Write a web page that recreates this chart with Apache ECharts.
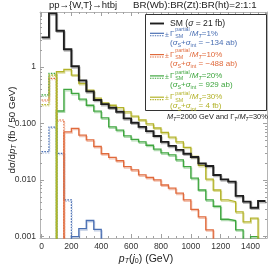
<!DOCTYPE html>
<html><head><meta charset="utf-8">
<script src="https://cdn.jsdelivr.net/npm/echarts@6/dist/echarts.min.js"></script>
<style>html,body{margin:0;padding:0;background:#fff}#c{width:270px;height:267px}</style>
</head><body><div id="c"></div>
<script>
// ---------------- data ----------------
const binEdges = [0,50,100,150,200,250,300,350,400,450,500,550,600,650,700,750,800,850,900,950,1000,1050,1100,1150,1200,1250,1300,1350,1400,1450,1500];
// SM distribution (fb / 50 GeV)
const smValues = [3.36,8.95,4.40,2.06,1.03,0.58,0.37,0.26,0.22,0.19,0.161,0.123,0.103,0.087,0.073,0.060,0.047,0.040,0.034,0.029,0.0254,0.0196,0.0176,0.0122,0.0102,0.0093,0.0052,0.0041,0.0032,0.0042];
// signal+interference, signed (negative bins drawn dotted as |value|)
const gamma1Values  = [-0.0316,-0.086,-0.0295,-0.0044,0.00098,0.00136,0.0019,0.00132,0,0,0,0,0,0,0,0,0,0,0,0,0,0,0,0,0,0,0,0,0,0];
const gamma10Values = [-0.26,-0.63,-0.115,0.071,0.082,0.062,0.051,0.039,0.029,0.025,0.0218,0.0171,0.015,0.0122,0.011,0.010,0.0081,0.0071,0.0058,0.0044,0.0030,0.0022,0.0013,0,0,0,0,0,0,0];
const gamma20Values = [-0.32,-0.77,0.166,0.40,0.34,0.27,0.21,0.165,0.125,0.087,0.076,0.060,0.052,0.047,0.041,0.035,0.030,0.0276,0.0225,0.0171,0.0107,0.0066,0.0044,0.0034,0.0020,0.0019,0.0013,0,0.00098,0];
const gamma30Values = [-0.216,-0.72,0.825,0.91,0.72,0.51,0.39,0.28,0.23,0.21,0.19,0.16,0.135,0.115,0.098,0.083,0.069,0.057,0.047,0.0377,0.026,0.018,0.0103,0.0066,0.0044,0.0041,0.0027,0.0018,0.0021,0];
const xTicks = [0,200,400,600,800,1000,1200,1400];
const yTicks = [0.001,0.01,0.1,1];
const yTickLabels = ['0.001','0.010','0.100','1'];
const yMinorTicks = [0.002,0.003,0.004,0.005,0.006,0.007,0.008,0.009,0.02,0.03,0.04,0.05,0.06,0.07,0.08,0.09,0.2,0.3,0.4,0.5,0.6,0.7,0.8,0.9,2,3,4,5,6,7,8,9];
const legendLabels = ['1%','10%','20%','30%'];
const legendSigma = ['\u2212134 ab','\u2212488 ab','929 ab','4 fb'];

// ---------------- styling ----------------
const FONT = 'Liberation Sans, Arial, sans-serif';
const X_MIN = -10, X_MAX = 1510, Y_MIN = 0.00093, Y_MAX = 9.45;
const FLOOR = 1e-7;
const colors = ['#4a6fb3','#e06a3c','#3fa63f','#b3b32a'];
const shadows = ['rgba(74,111,179,0.35)','rgba(224,106,60,0.4)','rgba(63,166,63,0.4)','rgba(179,179,42,0.45)'];

function steps(vals, keep) {
  const pts = [];
  vals.forEach((v, i) => {
    const y = keep(v) ? Math.abs(v) : FLOOR;
    pts.push([binEdges[i], y], [binEdges[i + 1], y]);
  });
  return pts;
}
function lineSeries(data, color, width, dotted, shadow) {
  return {
    type: 'line', data, xAxisIndex: 0, yAxisIndex: 0, symbol: 'none', showSymbol: false,
    animation: false, clip: true, silent: true,
    lineStyle: { color, width, type: dotted ? [1.6, 1.2] : 'solid', cap: 'butt', join: 'miter',
      shadowColor: shadow, shadowBlur: 0.5, shadowOffsetX: 0.8, shadowOffsetY: 1.4 }
  };
}
const series = [];
[gamma1Values, gamma10Values, gamma20Values, gamma30Values].forEach((vals, k) => {
  series.push(lineSeries(steps(vals, v => v < 0), colors[k], 1.2, true, shadows[k]));
  series.push(lineSeries(steps(vals, v => v > 0), colors[k], 1.3, false, shadows[k]));
});
series.push(lineSeries(steps(smValues, v => v > 0), '#1e1e1e', 1.9, false, 'rgba(0,0,0,0.28)'));

function xAx(pos, ticks, len, labels, line) {
  return { type: 'value', min: X_MIN, max: X_MAX, position: pos, gridIndex: 0,
    axisLine: { show: line, onZero: false, lineStyle: { color: '#b4b4b4', width: 1 } },
    axisTick: { show: true, inside: true, length: len, customValues: ticks, lineStyle: { color: '#a0a0a0', width: 1 } },
    axisLabel: labels ? { show: true, customValues: xTicks, fontSize: 8.5, color: '#333', margin: 4, fontFamily: FONT,
      formatter: v => String(Math.round(v)) } : { show: false },
    splitLine: { show: false }, minorTick: { show: false } };
}
function yAx(pos, ticks, len, labels, line) {
  return { type: 'log', logBase: 10, min: Y_MIN, max: Y_MAX, position: pos, gridIndex: 0,
    axisLine: { show: line, onZero: false, lineStyle: { color: '#b4b4b4', width: 1 } },
    axisTick: { show: true, inside: true, length: len, customValues: ticks, lineStyle: { color: '#a0a0a0', width: 1 } },
    axisLabel: labels ? { show: true, customValues: yTicks, fontSize: 8.5, color: '#333', margin: 4, fontFamily: FONT,
      formatter: v => { let b = 0; yTicks.forEach((t, i) => { if (Math.abs(Math.log10(t) - Math.log10(v)) < 1e-6) b = i; }); return yTickLabels[b]; } } : { show: false },
    splitLine: { show: false }, minorTick: { show: false } };
}

// ---------------- graphics (titles, legend, axis names) ----------------
function rich(c, fs) {
  return {
    n: { fontSize: fs, fill: c, fontFamily: FONT, lineHeight: 11 },
    i: { fontSize: fs, fill: c, fontFamily: FONT, fontStyle: 'italic', lineHeight: 11 },
    sb: { fontSize: fs * 0.68, fill: c, fontFamily: FONT, lineHeight: 6, verticalAlign: 'bottom' },
    si: { fontSize: fs * 0.68, fill: c, fontFamily: FONT, fontStyle: 'italic', lineHeight: 6, verticalAlign: 'bottom' }
  };
}
function T(x, y, text, opts) {
  return { type: 'text', x, y, silent: true, z: 100,
    style: Object.assign({ text, fontSize: 7.5, fontFamily: FONT, fill: '#222', align: 'left', verticalAlign: 'middle' }, opts || {}) };
}
function L(x1, y1, x2, y2, color, width, dash) {
  return { type: 'line', silent: true, z: 100, shape: { x1, y1, x2, y2 },
    style: { stroke: color, lineWidth: width, lineDash: dash || null } };
}
const g = [];
g.push(T(49, 5.5, 'pp\u2192{W,T}\u2192htbj', { fontSize: 9.5 }));
g.push(T(133, 5.5, 'BR(Wb):BR(Zt):BR(ht)=2:1:1', { fontSize: 9.7 }));
// legend box
g.push({ type: 'rect', silent: true, z: 99, shape: { x: 145.5, y: 14.5, width: 121, height: 96 },
  style: { fill: '#fff', stroke: '#333', lineWidth: 1 } });
g.push(L(150, 23.5, 164, 23.5, '#1e1e1e', 1.9));
g.push(T(170, 23.5, '{n|SM (}{i|\u03c3}{n| = 21 fb)}', { rich: rich('#1e1e1e', 8.6) }));
legendLabels.forEach((lab, k) => {
  const y = 33.3 + k * 21.3, c = colors[k];
  g.push(L(150, y, 164, y, c, 1.2));
  g.push(L(150, y + 2.4, 164, y + 2.4, c, 1.1, [1.4, 1]));
  g.push(T(165, y + 1.3, '\u00b1', { fill: c, fontSize: 7 }));
  g.push(T(170, y, '\u0393', { fill: c, fontSize: 8 }));
  g.push(T(175.3, y - 3.6, 'partial', { fill: c, fontSize: 5.3 }));
  g.push(T(175.3, y + 3, 'SM', { fill: c, fontSize: 5.3 }));
  g.push(T(189.5, y, '{n|/}{i|M}{si|T}{n|=' + lab + '}', { rich: rich(c, 8) }));
  g.push(T(170, y + 9, '{n|(}{i|\u03c3}{sb|S}{n|+}{i|\u03c3}{sb|int}{n| = ' + legendSigma[k] + ')}', { rich: rich(c, 8) }));
});
g.push(T(167, 117, '{i|M}{si|T}{n|=2000 GeV and \u0393}{si|T}{n|/}{i|M}{si|T}{n|=30%}', { rich: rich('#222', 7.4) }));
// axis names
g.push({ type: 'text', x: 12, y: 130, rotation: Math.PI / 2, silent: true, z: 100,
  style: { text: '{n|d\u03c3/d}{i|p}{si|T}{n| (fb / 50 GeV)}', align: 'center', verticalAlign: 'middle', rich: rich('#222', 9.7) } });
g.push({ type: 'text', x: 146, y: 259.5, silent: true, z: 100,
  style: { text: '{i|p}{si|T}{n|(}{i|j}{sb|0}{n|) (GeV)}', align: 'center', verticalAlign: 'middle', rich: rich('#222', 10.5) } });

const chart = echarts.init(document.getElementById('c'), null, { renderer: 'canvas' });
chart.setOption({
  animation: false,
  backgroundColor: '#fff',
  grid: { left: 40, right: 3, top: 12, bottom: 29, show: false },
  xAxis: [ xAx('bottom', xTicks, 4, true, true), xAx('bottom', binEdges, 2, false, false),
           xAx('top', xTicks, 4, false, true), xAx('top', binEdges, 2, false, false) ],
  yAxis: [ yAx('left', yTicks, 4, true, true), yAx('left', yMinorTicks, 2, false, false),
           yAx('right', yTicks, 4, false, true), yAx('right', yMinorTicks, 2, false, false) ],
  series,
  graphic: g
});
</script></body></html>
